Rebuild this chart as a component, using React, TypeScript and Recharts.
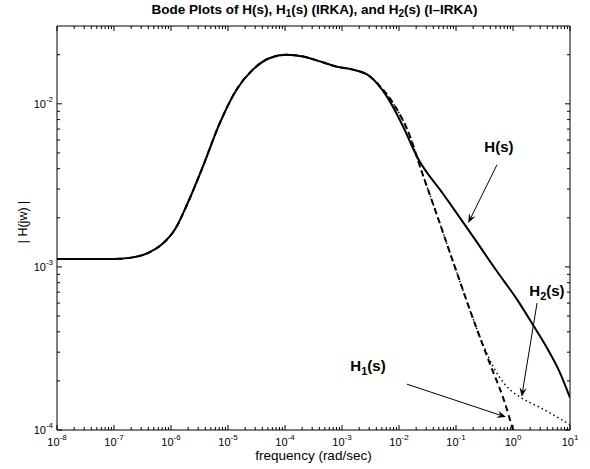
import React from "react";
import { LineChart, Line, XAxis, YAxis, ReferenceLine, ReferenceDot } from "recharts";

const FONT = "'Liberation Sans', Arial, Helvetica, sans-serif";

// H(s): full model
const hFreq = [
  1e-8, 1e-7, 2e-7, 4e-7, 7e-7, 1.2e-6, 2e-6, 3.6e-6, 7.2e-6, 1.41e-5, 2.73e-5,
  5.43e-5, 1.07e-4, 2.07e-4, 4.1e-4, 8.07e-4, 1.56e-3, 3.1e-3, 6.1e-3, 1.18e-2,
  2.06e-2, 6e-2, 0.217, 0.5, 1.19, 2.28, 4, 6.5, 10,
];
const hMag = [
  1.12e-3, 1.12e-3, 1.14e-3, 1.22e-3, 1.38e-3, 1.72e-3, 2.5e-3, 4.1e-3, 7.64e-3,
  1.22e-2, 1.62e-2, 1.91e-2, 2.0e-2, 1.95e-2, 1.82e-2, 1.69e-2, 1.62e-2, 1.47e-2,
  1.11e-2, 7.26e-3, 4.75e-3, 2.79e-3, 1.47e-3, 9.6e-4, 6.28e-4, 4.37e-4, 3.16e-4,
  2.29e-4, 1.58e-4,
];

// H1(s) (IRKA): same as H up to 3.1e-3, then
const h1TailFreq = [4.66e-3, 7.87e-3, 1.57e-2, 2.35e-2, 4.61e-2, 0.1, 0.2, 0.4, 0.7, 1.0];
const h1TailMag = [1.28e-2, 1.01e-2, 6.28e-3, 4.1e-3, 2.09e-3, 9.55e-4, 4.79e-4, 2.51e-4, 1.51e-4, 1.0e-4];

// H2(s) (I-IRKA): same as H1 up to 0.2, then
const h2TailFreq = [0.451, 0.733, 1.34, 3.16, 10];
const h2TailMag = [2.44e-4, 1.89e-4, 1.59e-4, 1.36e-4, 1.08e-4];

const xDecades = [-8, -7, -6, -5, -4, -3, -2, -1, 0, 1];
const yDecades = [-4, -3, -2];
const minorSteps = [2, 3, 4, 5, 6, 7, 8, 9];

const toPoints = (f: number[], m: number[]) => f.map((v, i) => ({ f: v, m: m[i] }));

const hData = toPoints(hFreq, hMag);
const h1Data = toPoints(
  [...hFreq.slice(0, 18), ...h1TailFreq],
  [...hMag.slice(0, 18), ...h1TailMag]
);
const h2Data = toPoints(
  [...hFreq.slice(0, 18), ...h1TailFreq.slice(0, 7), ...h2TailFreq],
  [...hMag.slice(0, 18), ...h1TailMag.slice(0, 7), ...h2TailMag]
);

const X_DOMAIN = [1e-8, 10];
const Y_DOMAIN = [1e-4, 3e-2];

const xTicks: number[] = [];
xDecades.forEach((d) => {
  xTicks.push(Math.pow(10, d));
  if (d < 1) minorSteps.forEach((s) => xTicks.push(s * Math.pow(10, d)));
});
const yTicks: number[] = [];
yDecades.forEach((d) => {
  yTicks.push(Math.pow(10, d));
  minorSteps.forEach((s) => {
    const v = s * Math.pow(10, d);
    if (v < Y_DOMAIN[1] * 0.999) yTicks.push(v);
  });
});

const isMajor = (v: number) => {
  const e = Math.round(Math.log10(v));
  return Math.abs(Math.log10(v) - e) < 1e-6;
};
const expOf = (v: number) => Math.round(Math.log10(v));

const BottomTick = (props: any) => {
  const { x, y, payload } = props;
  const major = isMajor(payload.value);
  return (
    <g>
      <line x1={x} x2={x} y1={y} y2={y - (major ? 5 : 3)} stroke="#000" strokeWidth={1} />
      {major && (
        <text x={x} y={y + 16} textAnchor="middle" fontSize={11} fontFamily={FONT} fill="#000">
          10
          <tspan dy={-6} fontSize={8}>{String(expOf(payload.value))}</tspan>
        </text>
      )}
    </g>
  );
};

const TopTick = (props: any) => {
  const { x, y, payload } = props;
  const major = isMajor(payload.value);
  return <line x1={x} x2={x} y1={y} y2={y + (major ? 5 : 3)} stroke="#000" strokeWidth={1} />;
};

const LeftTick = (props: any) => {
  const { x, y, payload } = props;
  const major = isMajor(payload.value);
  return (
    <g>
      <line x1={x} x2={x + (major ? 5 : 3)} y1={y} y2={y} stroke="#000" strokeWidth={1} />
      {major && (
        <text x={x - 4} y={y + 4} textAnchor="end" fontSize={11} fontFamily={FONT} fill="#000">
          10
          <tspan dy={-6} fontSize={8}>{String(expOf(payload.value))}</tspan>
        </text>
      )}
    </g>
  );
};

const RightTick = (props: any) => {
  const { x, y, payload } = props;
  const major = isMajor(payload.value);
  return <line x1={x} x2={x - (major ? 5 : 3)} y1={y} y2={y} stroke="#000" strokeWidth={1} />;
};

const Arrow = (p: any) => {
  const { x1, y1, x2, y2 } = p;
  const a = Math.atan2(y2 - y1, x2 - x1);
  const ux = Math.cos(a);
  const uy = Math.sin(a);
  const nx = -uy;
  const ny = ux;
  const len = 9;
  const half = 3.6;
  const bx = x2 - len * ux;
  const by = y2 - len * uy;
  const cx = x2 - len * 0.65 * ux;
  const cy = y2 - len * 0.65 * uy;
  return (
    <g>
      <line x1={x1} y1={y1} x2={cx} y2={cy} stroke="#000" strokeWidth={1} />
      <path
        d={`M${x2},${y2} L${bx + nx * half},${by + ny * half} L${cx},${cy} L${bx - nx * half},${by - ny * half} Z`}
        fill="#000"
      />
    </g>
  );
};

const label = (main: string, sub?: string) => (p: any) => (
  <text x={p.cx} y={p.cy} textAnchor="middle" fontSize={15} fontWeight="bold" fontFamily={FONT} fill="#000">
    {main}
    {sub && (
      <tspan fontSize={11} dy={4}>
        {sub}
      </tspan>
    )}
    <tspan dy={sub ? -4 : 0}>(s)</tspan>
  </text>
);

const subStyle = { fontSize: 10, verticalAlign: "-3px", lineHeight: 0 } as const;

export default function App() {
  return (
    <div style={{ position: "absolute", left: 0, top: 0, width: 590, height: 469, background: "#fff", fontFamily: FONT }}>
      <div
        style={{
          position: "absolute",
          left: 314.5,
          top: 2.5,
          transform: "translateX(-50%)",
          whiteSpace: "nowrap",
          fontSize: 13.5,
          fontWeight: "bold",
          lineHeight: "14px",
        }}
      >
        Bode Plots of H(s), H<sub style={subStyle}>1</sub>(s) (IRKA), and H<sub style={subStyle}>2</sub>(s) (I–IRKA)
      </div>
      <LineChart width={590} height={469} margin={{ top: 25, right: 19, bottom: 0, left: 0 }}>
        <XAxis
          xAxisId="b"
          dataKey="f"
          type="number"
          scale="log"
          domain={X_DOMAIN}
          allowDataOverflow
          ticks={xTicks}
          interval={0}
          tick={<BottomTick />}
          tickLine={false}
          tickSize={0}
          tickMargin={0}
          height={39}
          axisLine={{ stroke: "#000", strokeWidth: 1 }}
        />
        <XAxis
          xAxisId="t"
          orientation="top"
          dataKey="f"
          type="number"
          scale="log"
          domain={X_DOMAIN}
          allowDataOverflow
          ticks={xTicks}
          interval={0}
          tick={<TopTick />}
          tickLine={false}
          tickSize={0}
          tickMargin={0}
          height={1}
          axisLine={{ stroke: "#000", strokeWidth: 1 }}
        />
        <YAxis
          yAxisId="l"
          type="number"
          scale="log"
          domain={Y_DOMAIN}
          allowDataOverflow
          ticks={yTicks}
          interval={0}
          tick={<LeftTick />}
          tickLine={false}
          tickSize={0}
          tickMargin={0}
          width={57}
          axisLine={{ stroke: "#000", strokeWidth: 1 }}
        />
        <YAxis
          yAxisId="r"
          orientation="right"
          type="number"
          scale="log"
          domain={Y_DOMAIN}
          allowDataOverflow
          ticks={yTicks}
          interval={0}
          tick={<RightTick />}
          tickLine={false}
          tickSize={0}
          tickMargin={0}
          width={1}
          axisLine={{ stroke: "#000", strokeWidth: 1 }}
        />
        <Line
          xAxisId="b"
          yAxisId="l"
          data={hData}
          dataKey="m"
          type="monotone"
          stroke="#000"
          strokeWidth={2}
          dot={false}
          isAnimationActive={false}
        />
        <Line
          xAxisId="b"
          yAxisId="l"
          data={h1Data}
          dataKey="m"
          type="monotone"
          stroke="#000"
          strokeWidth={2}
          strokeDasharray="6 4"
          dot={false}
          isAnimationActive={false}
        />
        <Line
          xAxisId="b"
          yAxisId="l"
          data={h2Data}
          dataKey="m"
          type="monotone"
          stroke="#000"
          strokeWidth={1.5}
          strokeDasharray="1.5 3"
          dot={false}
          isAnimationActive={false}
        />
        <ReferenceLine
          xAxisId="b"
          yAxisId="l"
          segment={[{ x: 0.524, y: 4.23e-3 }, { x: 0.164, y: 1.86e-3 }]}
          shape={Arrow}
        />
        <ReferenceLine
          xAxisId="b"
          yAxisId="l"
          segment={[{ x: 2.64, y: 6.0e-4 }, { x: 1.42, y: 1.6e-4 }]}
          shape={Arrow}
        />
        <ReferenceLine
          xAxisId="b"
          yAxisId="l"
          segment={[{ x: 1.38e-2, y: 1.91e-4 }, { x: 0.753, y: 1.2e-4 }]}
          shape={Arrow}
        />
        <ReferenceDot xAxisId="b" yAxisId="l" x={0.567} y={5.08e-3} r={0} shape={label("H")} />
        <ReferenceDot xAxisId="b" yAxisId="l" x={3.94} y={6.64e-4} r={0} shape={label("H", "2")} />
        <ReferenceDot xAxisId="b" yAxisId="l" x={2.86e-3} y={2.3e-4} r={0} shape={label("H", "1")} />
      </LineChart>
      <div
        style={{
          position: "absolute",
          left: 313.5,
          top: 449,
          transform: "translateX(-50%)",
          whiteSpace: "nowrap",
          fontSize: 13.5,
          lineHeight: "14px",
        }}
      >
        frequency (rad/sec)
      </div>
      <div
        style={{
          position: "absolute",
          left: 23,
          top: 222,
          transform: "translate(-50%, -50%) rotate(-90deg)",
          whiteSpace: "nowrap",
          fontSize: 12.5,
          lineHeight: "13px",
        }}
      >
        | H(jw) |
      </div>
    </div>
  );
}
